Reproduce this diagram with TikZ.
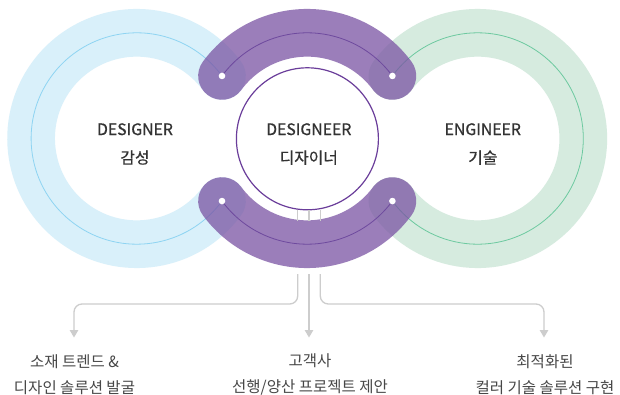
\documentclass[tikz,border=0pt]{standalone}
\usepackage{fontspec}
\setmainfont{Noto Sans CJK KR}
\newfontfamily\krmed{Noto Sans CJK KR}[FakeBold=0.6]
\usetikzlibrary{arrows.meta,calc}
\definecolor{ringblue}{HTML}{D9F0FA}
\definecolor{lineblue}{HTML}{8ED4F2}
\definecolor{ringgreen}{HTML}{D6EBDF}
\definecolor{linegreen}{HTML}{6DC9A0}
\definecolor{bandpurple}{HTML}{7A54A3}
\definecolor{linepurple}{HTML}{6E4A9E}
\definecolor{circpurple}{HTML}{6A3D9A}
\definecolor{conngray}{HTML}{CDCDCD}
\definecolor{txt}{HTML}{333333}
\begin{document}
\begin{tikzpicture}[x=1pt,y=-1pt,
  band/.style={line width=47.7pt,line cap=round},
  thinring/.style={line width=0.8pt},
  dotw/.style={circle,fill=white,inner sep=0pt,minimum size=6.6pt},
  ringlabel/.style={align=center,text=txt,font=\krmed\fontsize{15.8}{28.5}\selectfont},
  outlabel/.style={align=center,text=txt!90,font=\fontsize{15.5}{26.5}\selectfont},
  conn/.style={draw=conngray,line width=1.3pt,rounded corners=8pt},
  connarrow/.style={conn,-{Triangle[width=8.5pt,length=7.5pt]}},
  stub/.style={draw=conngray,line width=1.3pt}]
\useasboundingbox (0,0) rectangle (620,395);
\fill[white] (0,0) rectangle (620,395);
% centres
\coordinate (L) at (136.8,138.5);
\coordinate (M) at (307.2,138.5);
\coordinate (R) at (477.6,138.5);
\coordinate (TL) at ($(L)+(-36.29:105.7)$);
\coordinate (BL) at ($(L)+(36.29:105.7)$);
\coordinate (TR) at ($(R)+(-143.71:105.7)$);
\coordinate (BR) at ($(R)+(143.71:105.7)$);
% side bands
\draw[band,draw=ringblue] (BL) arc[start angle=36.29,end angle=323.71,radius=105.7];
\draw[band,draw=ringgreen] (TR) arc[start angle=-143.71,end angle=143.71,radius=105.7];
\draw[thinring,draw=lineblue] (BL) arc[start angle=36.29,end angle=323.71,radius=105.7];
\draw[thinring,draw=linegreen] (TR) arc[start angle=-143.71,end angle=143.71,radius=105.7];
% purple bands
\draw[band,draw=bandpurple,draw opacity=0.75] (TL) arc[start angle=-143.71,end angle=-36.29,radius=105.7];
\draw[band,draw=bandpurple,draw opacity=0.75] (BL) arc[start angle=143.71,end angle=36.29,radius=105.7];
\draw[thinring,draw=linepurple] (TL) arc[start angle=-143.71,end angle=-36.29,radius=105.7];
\draw[thinring,draw=linepurple] (BL) arc[start angle=143.71,end angle=36.29,radius=105.7];
\node[dotw] (dTL) at (TL) {};
\node[dotw] (dTR) at (TR) {};
\node[dotw] (dBL) at (BL) {};
\node[dotw] (dBR) at (BR) {};
% centre circle
\node[circle,draw=circpurple,line width=1.2pt,minimum size=142pt,inner sep=0pt] (C) at (307.4,138.8) {};
% labels
\node[ringlabel] (lbl) at (135,144) {DESIGNER\\감성};
\node[ringlabel] (mid) at (308.8,144) {DESIGNEER\\디자이너};
\node[ringlabel] (rgt) at (482.8,144) {ENGINEER\\기술};
% connector stubs between circle and band
\coordinate (s1a) at (297.7,210.5); \coordinate (s1b) at (297.7,220.5);
\coordinate (s2a) at (309,210.5);   \coordinate (s2b) at (309,220.5);
\coordinate (s3a) at (320.3,210.5); \coordinate (s3b) at (320.3,220.5);
\draw[stub] (s1a) -- (s1b);
\draw[stub] (s2a) -- (s2b);
\draw[stub] (s3a) -- (s3b);
% connectors below band
\coordinate (c1) at (297.7,274);
\coordinate (c2) at (309,274);
\coordinate (c3) at (320.3,274);
\coordinate (a1) at (74,337.5);
\coordinate (a2) at (309,337.5);
\coordinate (a3) at (544,337.5);
\draw[connarrow] (c1) -- (297.7,304) -- (74,304) -- (a1);
\draw[connarrow] (c2) -- (a2);
\draw[connarrow] (c3) -- (320.3,304) -- (544,304) -- (a3);
% bottom texts
\node[outlabel] (o1) at (74.5,374.5) {소재 트렌드 \&\\디자인 솔루션 발굴};
\node[outlabel] (o2) at (310,374.5) {고객사\\선행/양산 프로젝트 제안};
\node[outlabel] (o3) at (545,374.5) {최적화된\\컬러 기술 솔루션 구현};
\end{tikzpicture}
\end{document}
